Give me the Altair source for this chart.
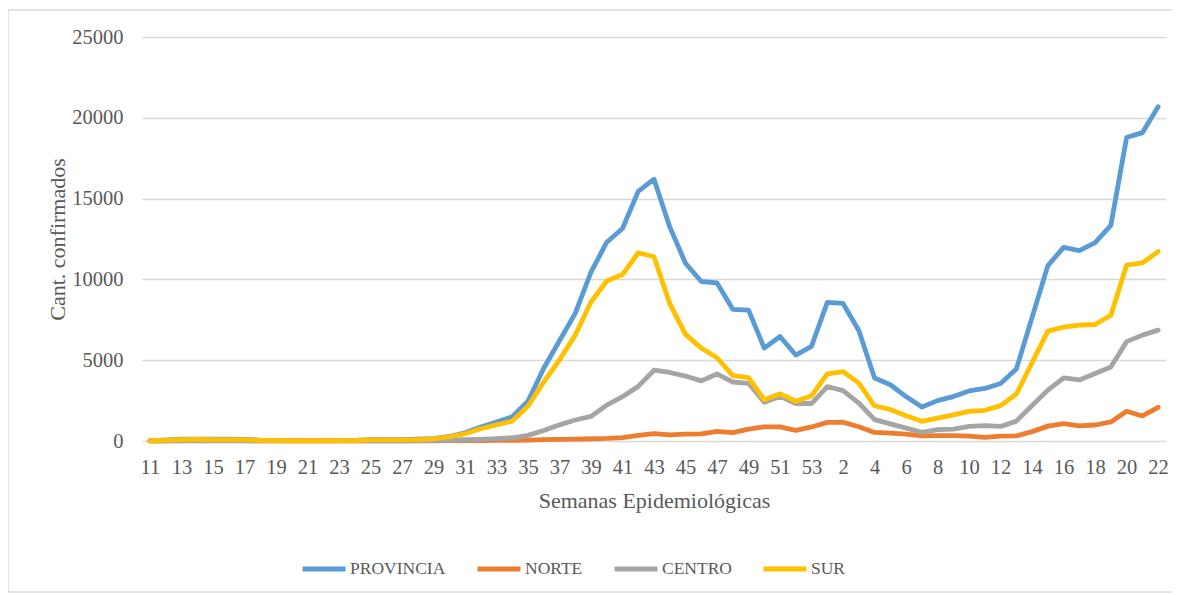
import altair as alt
import pandas as pd

# Epidemiological weeks: 2020 (11-53) followed by 2021 (1-22)
weeks = ["11", "12", "13", "14", "15", "16", "17", "18", "19", "20",
         "21", "22", "23", "24", "25", "26", "27", "28", "29", "30",
         "31", "32", "33", "34", "35", "36", "37", "38", "39", "40",
         "41", "42", "43", "44", "45", "46", "47", "48", "49", "50",
         "51", "52", "53",
         "1", "2", "3", "4", "5", "6", "7", "8", "9", "10",
         "11", "12", "13", "14", "15", "16", "17", "18", "19", "20",
         "21", "22"]
years = [2020] * 43 + [2021] * 22

provincia = [20, 60, 110, 120, 110, 110, 100, 50, 30, 20,
             20, 20, 30, 40, 80, 90, 90, 110, 150, 280,
             510, 860, 1170, 1500, 2460, 4500, 6200, 7900, 10450, 12300,
             13150, 15450, 16200, 13250, 11000, 9870, 9780, 8150, 8100, 5750,
             6470, 5320, 5860,
             8580, 8510, 6840, 3900, 3480, 2750, 2100, 2500, 2750, 3100,
             3250, 3560, 4450, 7650, 10850, 11980, 11780, 12280, 13350, 18780,
             19080, 20680]
norte = [0, 5, 10, 10, 10, 10, 10, 5, 5, 5,
         5, 5, 5, 5, 10, 10, 10, 10, 15, 20,
         25, 30, 35, 40, 60, 80, 100, 110, 140, 160,
         210, 350, 450, 380, 430, 440, 590, 520, 730, 880,
         870, 660, 870,
         1150, 1160, 880, 530, 490, 420, 320, 330, 330, 300,
         230, 300, 320, 580, 920, 1080, 930, 990, 1180, 1840,
         1550, 2080]
centro = [5, 10, 20, 20, 20, 20, 20, 10, 10, 5,
          5, 5, 5, 10, 10, 15, 15, 20, 30, 60,
          80, 100, 140, 200, 350, 650, 1000, 1300, 1520, 2220,
          2740, 3380, 4380, 4240, 4020, 3720, 4150, 3650, 3570, 2400,
          2760, 2320, 2320,
          3370, 3120, 2350, 1320, 1060, 800, 530, 700, 730, 900,
          950, 900, 1230, 2200, 3150, 3900, 3780, 4180, 4580, 6150,
          6550, 6860]
sur = [15, 50, 90, 100, 90, 90, 80, 40, 20, 15,
       15, 15, 20, 30, 70, 75, 75, 90, 130, 250,
       450, 760, 1000, 1230, 2150, 3650, 5020, 6550, 8600, 9900,
       10300, 11650, 11400, 8500, 6600, 5750, 5150, 4050, 3920, 2550,
       2920, 2460, 2800,
       4150, 4290, 3580, 2180, 1950, 1560, 1220, 1420, 1620, 1830,
       1900, 2190, 2900, 4850, 6800, 7050, 7170, 7210, 7780, 10880,
       11020, 11720]

series_names = ["PROVINCIA", "NORTE", "CENTRO", "SUR"]
series_colors = ["#5B9BD5", "#ED7D31", "#A5A5A5", "#FFC000"]
y_ticks = [0, 5000, 10000, 15000, 20000, 25000]

keys = [f"{y}-{w}" for y, w in zip(years, weeks)]
rows = []
for name, vals in zip(series_names, [provincia, norte, centro, sur]):
    for k, v in zip(keys, vals):
        rows.append({"key": k, "serie": name, "casos": v})
df = pd.DataFrame(rows)

FONT = "Liberation Serif"
GRAY = "#595959"

x_enc = alt.X(
    "key:O",
    sort=keys,
    scale=alt.Scale(type="point", padding=0.5),
    axis=alt.Axis(
        title="Semanas Epidemiológicas",
        values=keys[::2],
        labelExpr="split(datum.value, '-')[1]",
        labelAngle=0,
        labelFont=FONT, labelFontSize=20.5, labelColor=GRAY, labelPadding=16,
        titleFont=FONT, titleFontSize=22, titleColor=GRAY, titleFontWeight="normal",
        titleX=512, titleY=66, titleBaseline="alphabetic",
        domain=False, ticks=False, grid=False,
    ),
)
y_enc = alt.Y(
    "casos:Q",
    scale=alt.Scale(domain=[0, 25000], nice=False),
    axis=alt.Axis(
        title="Cant. confirmados",
        values=y_ticks,
        format="d",
        labelFont=FONT, labelFontSize=20.5, labelColor=GRAY, labelPadding=19,
        titleFont=FONT, titleFontSize=22, titleColor=GRAY, titleFontWeight="normal",
        titleX=-85, titleY=202, titleAngle=-90, titleAlign="center", titleBaseline="middle",
        domain=False, ticks=False,
        grid=True, gridColor="#D9D9D9", gridWidth=1.5,
    ),
)
color_enc = alt.Color(
    "serie:N",
    sort=series_names,
    scale=alt.Scale(domain=series_names, range=series_colors),
    legend=alt.Legend(
        title=None, orient="none", direction="horizontal",
        legendX=158, legendY=508,
        symbolType="stroke", symbolSize=1849, symbolStrokeWidth=5,
        labelOffset=2, columnPadding=21, padding=0,
        labelFont=FONT, labelFontSize=17.5, labelColor=GRAY,
    ),
)

layers = []
for name in series_names:
    layers.append(
        alt.Chart(df)
        .transform_filter(alt.datum.serie == name)
        .mark_line(strokeWidth=4.8, strokeCap="round", strokeJoin="round")
        .encode(x=x_enc, y=y_enc, color=color_enc)
    )

border = alt.Chart(pd.DataFrame({"a": [0]})).mark_rect(
    filled=False, stroke="#D9D9D9", strokeWidth=1.5
).encode(
    x=alt.value(-134), x2=alt.value(1060), y=alt.value(-27), y2=alt.value(555)
)

chart = alt.layer(border, *layers).properties(
    width=1024, height=404,
    autosize=alt.AutoSizeParams(type="none"),
    padding={"left": 134, "top": 29, "right": 6, "bottom": 154},
).configure_view(stroke=None)

chart.save("out.html", embed_options={"renderer": "svg", "actions": False})
